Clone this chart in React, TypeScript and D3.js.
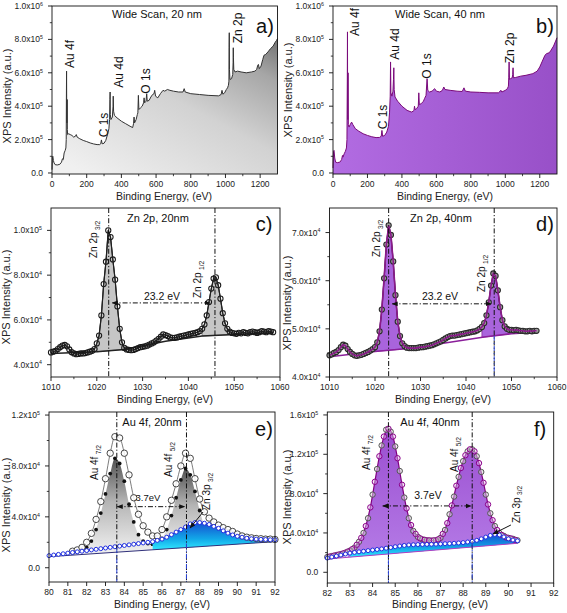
import React from "react";
import * as d3 from "d3";

const FONT = "'Liberation Sans', Arial, Helvetica, sans-serif";

// ---------------- data ----------------
// (a) wide scan 20 nm, intensity ×10^5
const wideEnergy20 = [0,2,5,8,12,18,30,45,55,60,65,70,76,80,82,83,84,85,86,87.5,88.5,90,96,105,115,125,135,140,145,160,180,200,220,240,260,275,281,285,289,300,310,320,328,332,334,335,336,340,348,352,353,355,360,375,400,425,450,465,470,473,476,485,492,495,498,501,510,520,528,531,534,542,546,549,560,570,580,588,592,597,610,625,640,650,665,680,700,730,755,762,768,800,850,900,960,975,980,985,995,1005,1012,1017,1020,1021,1022,1023,1026,1035,1042,1044,1045,1046,1048,1055,1070,1090,1120,1150,1170,1180,1186,1190,1195,1205,1215,1222,1232,1245,1260,1275,1285,1295,1300];
const wideIntensity20 = [0.2,0.95,1.0,0.75,0.6,0.5,0.48,0.52,0.65,0.85,0.8,1.2,1.35,1.5,2.0,4.5,6.1,3.2,3.0,4.4,2.6,2.3,2.35,2.3,2.25,2.15,2.2,2.3,2.15,2.05,1.95,1.88,1.8,1.74,1.7,1.7,1.75,1.98,1.75,1.78,1.95,2.3,2.65,3.2,4.4,4.85,3.5,3.2,3.35,4.0,4.6,3.7,3.45,3.3,3.1,2.95,2.8,2.72,2.95,3.35,3.0,3.2,3.5,3.6,4.65,3.8,3.9,4.0,4.2,4.5,4.2,4.3,4.75,4.3,4.35,4.55,4.7,4.75,4.95,4.6,4.5,4.75,4.95,4.9,5.0,4.95,4.9,4.85,4.85,5.05,4.85,4.75,4.7,4.65,4.62,4.7,4.95,4.72,4.8,5.0,5.1,5.25,5.5,7.5,8.4,6.2,5.6,5.65,5.9,6.6,7.5,6.9,6.2,6.05,6.1,6.05,6.0,6.05,6.1,6.2,6.45,6.5,6.25,6.4,6.8,7.05,7.1,7.25,7.45,7.6,7.8,7.95,8.05];
// (b) wide scan 40 nm, intensity ×10^5
const wideEnergy40 = [0,3,6,10,15,25,40,50,55,58,65,72,78,81,83,84,85,86,87.5,89,93,100,108,115,130,150,175,200,225,250,270,280,284,288,300,312,322,328,332,334,336,342,348,351,353,355,360,375,400,430,455,465,470,473,476,485,495,498,501,512,525,531,540,546,550,560,575,590,600,620,635,643,650,680,720,750,760,768,800,850,900,960,975,980,1000,1012,1018,1020,1022,1024,1030,1040,1043,1045,1047,1060,1090,1120,1160,1185,1200,1215,1230,1240,1255,1265,1280,1292,1300];
const wideIntensity40 = [0.3,1.3,1.35,0.9,0.65,0.62,0.65,0.8,1.05,0.95,1.15,1.3,1.5,2.0,5.5,8.45,3.5,3.2,6.0,2.9,2.75,2.9,3.05,2.9,2.65,2.5,2.35,2.25,2.17,2.12,2.13,2.2,2.55,2.2,2.25,2.45,2.8,3.6,4.6,6.65,4.8,4.6,4.9,5.6,6.3,5.0,4.55,4.3,4.0,3.75,3.65,3.7,3.75,4.0,3.8,3.85,4.0,4.8,4.1,4.15,4.3,4.45,4.65,5.65,4.95,4.85,4.9,5.05,4.9,4.85,4.95,5.15,5.0,4.95,4.9,4.88,5.1,4.9,4.85,4.83,4.8,4.8,4.95,4.85,4.95,5.05,5.2,5.7,6.65,5.6,5.65,5.7,5.9,6.3,5.7,5.72,5.8,5.85,5.95,6.1,6.35,6.7,7.05,7.15,7.2,7.35,7.6,7.9,8.1];
const widePeakNames = ["Au 4f", "C 1s", "Au 4d", "O 1s", "Zn 2p"];

// (c) Zn 2p 20 nm, ×10^4, 0.5 eV steps from 1010
const zn20Start = 1010;
const zn20Intensity = [4.55,4.58,4.62,4.7,4.78,4.85,4.88,4.82,4.68,4.56,4.5,4.47,4.48,4.5,4.5,4.52,4.55,4.58,4.62,4.7,4.95,5.3,6.2,7.6,8.6,10.0,9.7,8.7,7.8,6.6,5.6,5.0,4.75,4.68,4.66,4.65,4.66,4.7,4.74,4.78,4.8,4.82,4.85,4.9,4.95,5.0,5.08,5.15,5.25,5.35,5.32,5.28,5.22,5.2,5.2,5.22,5.25,5.28,5.3,5.32,5.35,5.38,5.4,5.42,5.45,5.5,5.6,5.8,6.2,6.8,7.4,7.85,7.9,7.55,6.95,6.3,5.85,5.6,5.48,5.42,5.4,5.38,5.42,5.4,5.45,5.42,5.4,5.45,5.48,5.45,5.42,5.45,5.5,5.48,5.45,5.5,5.48,5.45];
const zn20BgEnergy = [1010, 1020, 1026, 1035, 1043, 1050, 1058.5];
const zn20BgIntensity = [4.5, 4.58, 4.68, 5.05, 5.28, 5.35, 5.42];
const zn20PeakLines = [1022.6, 1045.8];
const zn20Split = { from: 1023.4, to: 1044.7, level: 6.76 };

// (d) Zn 2p 40 nm, ×10^4, 0.5 eV steps from 1010
const zn40Start = 1010;
const zn40Intensity = [4.45,4.47,4.5,4.52,4.56,4.62,4.67,4.65,4.58,4.52,4.48,4.45,4.44,4.45,4.46,4.48,4.5,4.52,4.55,4.58,4.62,4.72,4.95,5.4,6.05,6.75,7.15,6.95,6.4,5.7,5.15,4.85,4.7,4.64,4.61,4.6,4.6,4.6,4.6,4.61,4.62,4.62,4.63,4.64,4.65,4.66,4.68,4.7,4.72,4.74,4.77,4.8,4.83,4.85,4.86,4.86,4.87,4.88,4.89,4.9,4.91,4.92,4.93,4.94,4.95,4.97,5.0,5.04,5.12,5.28,5.55,5.9,6.15,6.1,5.8,5.45,5.18,5.05,5.0,4.98,4.98,4.97,4.98,4.97,4.96,4.96,4.95,4.95,4.96,4.95,4.96,4.96];
const zn40BgEnergy = [1010, 1020, 1026, 1035, 1044, 1050, 1055.5];
const zn40BgIntensity = [4.42, 4.53, 4.58, 4.7, 4.83, 4.9, 4.93];
const zn40PeakLines = [1023.0, 1046.2];
const zn40Split = { from: 1023.8, to: 1045.5, level: 5.52 };

// (e) Au 4f 20 nm, ×10^4
const au20MeasStart = 81.25;
const au20Measured = [1.3,1.4,1.6,2.0,2.7,3.8,5.2,7.0,9.0,10.3,10.2,9.0,7.3,5.5,4.2,3.3,2.8,2.5,2.5,3.0,4.0,5.3,6.6,8.0,9.0,8.6,7.0,5.4,4.4,3.9,3.6,3.35,3.15,3.0,2.85,2.65,2.5,2.4,2.35,2.3,2.28,2.25,2.25,2.22];
const au20ZnStart = 80;
const au20Zn3p = [0.95,1.0,1.05,1.1,1.15,1.2,1.25,1.3,1.35,1.4,1.45,1.5,1.55,1.6,1.65,1.7,1.75,1.8,1.85,1.9,1.95,2.0,2.05,2.15,2.25,2.4,2.6,2.8,3.0,3.2,3.45,3.55,3.55,3.5,3.4,3.25,3.1,2.9,2.72,2.58,2.47,2.4,2.32,2.28,2.25,2.23,2.22,2.2,2.2];
const au20Comp72Start = 81.75;
const au20Comp72 = [1.4,1.6,2.1,3.0,4.3,5.8,7.4,8.6,8.2,6.8,5.0,3.6,2.6,2.1,1.9,1.85];
const au20Comp52Start = 85.5;
const au20Comp52 = [1.85,1.95,2.3,3.0,4.1,5.5,6.9,7.8,7.3,6.0,4.5,3.3,2.6,2.25,2.1,2.05];
const au20BgEnergy = [80, 92];
const au20BgIntensity = [0.87, 2.05];
const au20PeakLines = [83.6, 87.3];
const au20Split = { from: 83.63, to: 87.2, level: 4.8 };
const au20ZnPointer = { from: [88.18, 4.38], to: [87.49, 3.12] };

// (f) Au 4f 40 nm, ×10^4, 0.2 eV steps
const au40Start = 82;
const au40Measured = [1.55,1.65,1.75,1.85,2.0,2.2,2.5,3.1,4.0,5.5,7.9,10.5,12.9,14.5,14.3,12.8,10.3,7.6,5.5,4.2,3.6,3.35,3.25,3.22,3.25,3.5,4.3,5.9,7.7,9.7,11.3,12.3,12.5,11.8,10.2,7.9,6.0,4.7,4.0,3.7,3.5,3.4,3.25];
const au40Zn3p = [1.45,1.55,1.65,1.75,1.85,1.95,2.02,2.08,2.14,2.2,2.26,2.32,2.38,2.45,2.52,2.6,2.67,2.73,2.78,2.8,2.82,2.83,2.84,2.85,2.86,2.88,2.9,2.92,2.95,2.98,3.02,3.08,3.15,3.25,3.4,3.58,3.75,3.85,3.8,3.6,3.4,3.28,3.2];
const au40FitStart = 82.1;
const au40Fit = [1.6,1.7,1.8,1.92,2.1,2.35,2.8,3.5,4.7,6.6,9.2,11.8,13.8,14.6,13.8,11.6,8.9,6.5,4.8,3.9,3.45,3.3,3.25,3.25,3.35,3.9,5.0,6.8,8.8,10.6,11.9,12.5,12.3,11.1,9.1,6.9,5.3,4.3,3.8,3.55,3.45,3.3];
const au40BgEnergy = [82, 90.4];
const au40BgIntensity = [1.35, 2.95];
const au40PeakLines = [84.7, 88.4];
const au40Split = { from: 84.45, to: 88.35, level: 6.75 };
const au40ZnPointer = { from: [90.11, 4.81], to: [89.32, 3.9] };

// ticks
const wideXTicks = [0, 200, 400, 600, 800, 1000, 1200];
const wideXMinor = [100, 300, 500, 700, 900, 1100];
const wideYTicks = [0, 2, 4, 6, 8, 10];
const wideYLabels = ["0.0", "2.0x10^5", "4.0x10^5", "6.0x10^5", "8.0x10^5", "1.0x10^6"];
const wideYMinor = [1, 3, 5, 7, 9];
const znXTicks = [1010, 1020, 1030, 1040, 1050, 1060];
const znXMinor = [1015, 1025, 1035, 1045, 1055];
const zn20YTicks = [4, 6, 8, 10];
const zn20YLabels = ["4.0x10^4", "6.0x10^4", "8.0x10^4", "1.0x10^5"];
const zn20YMinor = [5, 7, 9];
const zn40YTicks = [4, 5, 6, 7];
const zn40YLabels = ["4.0x10^4", "5.0x10^4", "6.0x10^4", "7.0x10^4"];
const zn40YMinor = [4.5, 5.5, 6.5];
const au20XTicks = [80, 81, 82, 83, 84, 85, 86, 87, 88, 89, 90, 91, 92];
const au40XTicks = [82, 83, 84, 85, 86, 87, 88, 89, 90, 91, 92];
const au20YTicks = [0, 4, 8, 12];
const au20YLabels = ["0.0", "4.0x10^4", "8.0x10^4", "1.2x10^5"];
const au20YMinor = [2, 6, 10];
const au40YTicks = [0, 4, 8, 12, 16];
const au40YLabels = ["0.0", "4.0x10^4", "8.0x10^4", "1.2x10^5", "1.6x10^5"];
const au40YMinor = [2, 6, 10, 14];

// ---------------- helpers ----------------
type P = [number, number];
const zip = (xs: number[], ys: number[]): P[] => xs.map((x, i) => [x, ys[i]] as P);
const grid = (start: number, step: number, vals: number[]): P[] =>
  vals.map((v, i) => [+(start + i * step).toFixed(3), v] as P);

const DASH = "5 2 1.2 2";

function SupText({ s, x, y, anchor, size }: any) {
  const [m, e] = s.split("^");
  return (
    <text x={x} y={y} textAnchor={anchor} fontSize={size} fill="#222">
      {m}
      {e ? <tspan dy={-3.2} fontSize={size * 0.62}>{e}</tspan> : null}
    </text>
  );
}

function Axes({ x, y, xt, xm, yt, yl, ym, xTitle, yTitle }: any) {
  const [L, R] = x.range();
  const [B, T] = y.range();
  return (
    <g>
      <rect x={L} y={T} width={R - L} height={B - T} fill="none" stroke="#111" strokeWidth={0.9} />
      {xt.map((v: number) => (
        <g key={"xt" + v}>
          <line x1={x(v)} x2={x(v)} y1={B} y2={B + 4} stroke="#111" strokeWidth={0.9} />
          <text x={x(v)} y={B + 12.5} textAnchor="middle" fontSize={8.5} fill="#222">{v}</text>
        </g>
      ))}
      {xm.map((v: number) => (
        <line key={"xm" + v} x1={x(v)} x2={x(v)} y1={B} y2={B + 2.2} stroke="#111" strokeWidth={0.8} />
      ))}
      {yt.map((v: number, i: number) => (
        <g key={"yt" + v}>
          <line x1={L - 4} x2={L} y1={y(v)} y2={y(v)} stroke="#111" strokeWidth={0.9} />
          <SupText s={yl[i]} x={L - 9} y={y(v) + 3} anchor="end" size={8.5} />
        </g>
      ))}
      {ym.map((v: number) => (
        <line key={"ym" + v} x1={L - 2.2} x2={L} y1={y(v)} y2={y(v)} stroke="#111" strokeWidth={0.8} />
      ))}
      <text x={xTitle[0]} y={xTitle[1]} textAnchor="middle" fontSize={10.5} fill="#222">Binding Energy, (eV)</text>
      <text transform={`translate(${yTitle[0]},${yTitle[1]}) rotate(-90)`} textAnchor="middle" fontSize={11} fill="#222">
        XPS Intensity (a.u.)
      </text>
    </g>
  );
}

function VLabel({ x, y, text, size = 12 }: any) {
  return (
    <text transform={`translate(${x},${y}) rotate(-90)`} textAnchor="middle" fontSize={size} fill="#111">{text}</text>
  );
}

function SubLabel({ x, y, main, sub, size = 10 }: any) {
  return (
    <text transform={`translate(${x},${y}) rotate(-90)`} fontSize={size} fill="#111">
      {main}
      <tspan dx={2.5} dy={2.5} fontSize={size * 0.66}>{sub}</tspan>
    </text>
  );
}

function Title({ x, y, text }: any) {
  return <text x={x} y={y} textAnchor="middle" fontSize={11} fill="#111">{text}</text>;
}
function Letter({ x, y, text }: any) {
  return <text x={x} y={y} textAnchor="middle" fontSize={20} fill="#111">{text}</text>;
}

function Split({ x, y, s, label, lx, ly, size = 10.5 }: any) {
  return (
    <g>
      <line x1={x(s.from)} x2={x(s.to)} y1={y(s.level)} y2={y(s.level)} stroke="#111" strokeWidth={1}
        strokeDasharray={DASH} markerStart="url(#arrowHead)" markerEnd="url(#arrowHead)" />
      <text x={lx} y={ly} textAnchor="middle" fontSize={size} fill="#111">{label}</text>
    </g>
  );
}

// ---------------- panels ----------------
function WidePanel({ E, I, left, right, fill, stroke, labelPos, title, letter, yTitle, xTitle }: any) {
  const x = d3.scaleLinear().domain([0, 1300]).range([left, right]);
  const y = d3.scaleLinear().domain([-0.06, 10]).range([174, 6]);
  const pts = zip(E, I);
  const area = d3.area<P>().x(d => x(d[0])).y0(174).y1(d => y(d[1]));
  const line = d3.line<P>().x(d => x(d[0])).y(d => y(d[1]));
  return (
    <g>
      <path d={area(pts) || ""} fill={fill} />
      <path d={line(pts) || ""} fill="none" stroke={stroke} strokeWidth={1} />
      <Axes x={x} y={y} xt={wideXTicks} xm={wideXMinor} yt={wideYTicks} yl={wideYLabels} ym={wideYMinor}
        xTitle={xTitle} yTitle={yTitle} />
      {widePeakNames.map((n, i) => (
        <VLabel key={n} x={labelPos[i][0]} y={labelPos[i][1]} text={n} size={12} />
      ))}
      <Title x={title[1]} y={17.5} text={title[0]} />
      <Letter x={letter[1]} y={33} text={letter[0]} />
    </g>
  );
}

function ZnPanel({ start, vals, bgE, bgI, lines, split, box, yDomain, yt, yl, ym, look, labels }: any) {
  const x = d3.scaleLinear().domain([1010, 1060]).range([box.left, box.right]);
  const y = d3.scaleLinear().domain(yDomain).range([box.bottom, box.top]);
  const pts = grid(start, 0.5, vals);
  const bg = d3.scaleLinear().domain(bgE).range(bgI);
  const bgPts = zip(bgE, bgI);
  const area = d3.area<P>().x(d => x(d[0])).y0(d => y(bg(d[0]))).y1(d => y(d[1]));
  const line = d3.line<P>().x(d => x(d[0])).y(d => y(d[1]));
  const p1 = pts.filter(d => d[0] >= lines[0] - 3 && d[0] <= lines[0] + 3.5);
  const p2 = pts.filter(d => d[0] >= lines[1] - 3 && d[0] <= lines[1] + 3.5);
  return (
    <g>
      <path d={area(p1) || ""} fill={look.fill} stroke={look.edge} strokeWidth={0.8} />
      <path d={area(p2) || ""} fill={look.fill} stroke={look.edge} strokeWidth={0.8} />
      <path d={line(bgPts) || ""} fill="none" stroke={look.bg} strokeWidth={1.6} />
      <path d={line(pts) || ""} fill="none" stroke={look.dot} strokeWidth={1.2} />
      {pts.map((d, i) => (
        <circle key={i} cx={x(d[0])} cy={y(d[1])} r={2.6} fill={look.dotFill} stroke={look.dot} strokeWidth={1.05} />
      ))}
      <path d={line(pts) || ""} fill="none" stroke={look.fit} strokeWidth={look.fitW} />
      {lines.map((v: number, i: number) => (
        <line key={i} x1={x(v)} x2={x(v)} y1={box.top} y2={box.bottom} stroke="#111" strokeWidth={1} strokeDasharray={DASH} />
      ))}
      {look.blueLine ? (
        <line x1={x(lines[1])} x2={x(lines[1])} y1={y(bg(lines[1]))} y2={box.bottom} stroke="#2b44d6" strokeWidth={1} strokeDasharray={DASH} />
      ) : null}
      <Split x={x} y={y} s={split} label="23.2 eV" lx={labels.split[0]} ly={labels.split[1]} />
      <Axes x={x} y={y} xt={znXTicks} xm={znXMinor} yt={yt} yl={yl} ym={ym} xTitle={labels.xTitle} yTitle={labels.yTitle} />
      <SubLabel x={labels.p1[0]} y={labels.p1[1]} main="Zn 2p" sub="3/2" />
      <SubLabel x={labels.p2[0]} y={labels.p2[1]} main="Zn 2p" sub="1/2" />
      <Title x={labels.title[1]} y={221.5} text={labels.title[0]} />
      <Letter x={labels.letter[1]} y={231} text={labels.letter[0]} />
    </g>
  );
}

function Au20Panel() {
  const box = { left: 49, right: 275, top: 412, bottom: 582 };
  const x = d3.scaleLinear().domain([80, 92]).range([box.left, box.right]);
  const y = d3.scaleLinear().domain([-1.12, 12.24]).range([box.bottom, box.top]);
  const bg = d3.scaleLinear().domain(au20BgEnergy).range(au20BgIntensity);
  const meas = grid(au20MeasStart, 0.25, au20Measured);
  const zn = grid(au20ZnStart, 0.25, au20Zn3p);
  const c72 = grid(au20Comp72Start, 0.25, au20Comp72);
  const c52 = grid(au20Comp52Start, 0.25, au20Comp52);
  const area = d3.area<P>().x(d => x(d[0])).y0(d => y(bg(d[0]))).y1(d => y(d[1])).curve(d3.curveMonotoneX);
  const line = d3.line<P>().x(d => x(d[0])).y(d => y(d[1])).curve(d3.curveMonotoneX);
  const znFill = zn.filter(d => d[0] >= 85.5 && d[0] <= 91.75);
  const bgPts = zip(au20BgEnergy, au20BgIntensity);
  return (
    <g>
      <path d={area(c72) || ""} fill="url(#grayPeak)" />
      <path d={area(c52) || ""} fill="url(#grayPeak)" />
      {c72.concat(c52).map((d, i) => (
        <circle key={"c" + i} cx={x(d[0])} cy={y(d[1])} r={1.9} fill="#111" />
      ))}
      <path d={area(znFill) || ""} fill="url(#cyanPeak)" />
      <path d={line(bgPts) || ""} stroke="#30307a" strokeWidth={1} fill="none" />
      <path d={line(meas) || ""} stroke="#444" strokeWidth={0.7} fill="none" />
      {meas.map((d, i) => (
        <circle key={"m" + i} cx={x(d[0])} cy={y(d[1])} r={3.2} fill="#fff" fillOpacity={0.85} stroke="#333" strokeWidth={0.9} />
      ))}
      <path d={line(zn) || ""} stroke="#1e2ee0" strokeWidth={1.2} fill="none" />
      {zn.map((d, i) => (
        <circle key={"z" + i} cx={x(d[0])} cy={y(d[1])} r={2} fill="#fff" stroke="#1e2ee0" strokeWidth={1} />
      ))}
      {au20PeakLines.map((v, i) => (
        <g key={i}>
          <line x1={x(v)} x2={x(v)} y1={box.top} y2={box.bottom} stroke="#111" strokeWidth={1} strokeDasharray={DASH} />
          <line x1={x(v)} x2={x(v)} y1={y(bg(v)) - 4} y2={box.bottom} stroke="#2b44d6" strokeWidth={1} strokeDasharray={DASH} />
        </g>
      ))}
      <Split x={x} y={y} s={au20Split} label="3.7eV" lx={148} ly={501} size={9.5} />
      <line x1={x(au20ZnPointer.from[0])} y1={y(au20ZnPointer.from[1])} x2={x(au20ZnPointer.to[0])} y2={y(au20ZnPointer.to[1])}
        stroke="#111" strokeWidth={1} markerEnd="url(#arrowHead)" />
      <Axes x={x} y={y} xt={au20XTicks} xm={[]} yt={au20YTicks} yl={au20YLabels} ym={au20YMinor}
        xTitle={[162, 607.5]} yTitle={[10, 505]} />
      <SubLabel x={98} y={480} main="Au 4f" sub="7/2" />
      <SubLabel x={172} y={477} main="Au 4f" sub="5/2" />
      <SubLabel x={210} y={510} main="Zn 3p" sub="3/2" />
      <Title x={152} y={426} text="Au 4f, 20nm" />
      <Letter x={264} y={436} text="e)" />
    </g>
  );
}

function Au40Panel() {
  const box = { left: 327.3, right: 553.7, top: 412, bottom: 583 };
  const x = d3.scaleLinear().domain([82, 92]).range([box.left, box.right]);
  const y = d3.scaleLinear().domain([-1.09, 16.3]).range([box.bottom, box.top]);
  const bg = d3.scaleLinear().domain(au40BgEnergy).range(au40BgIntensity);
  const meas = grid(au40Start, 0.2, au40Measured);
  const zn = grid(au40Start, 0.2, au40Zn3p);
  const fit = grid(au40FitStart, 0.2, au40Fit);
  const area = d3.area<P>().x(d => x(d[0])).y0(d => y(bg(d[0]))).y1(d => y(d[1])).curve(d3.curveMonotoneX);
  const line = d3.line<P>().x(d => x(d[0])).y(d => y(d[1])).curve(d3.curveMonotoneX);
  const bgPts = zip(au40BgEnergy, au40BgIntensity);
  return (
    <g>
      <path d={area(fit.filter(d => d[0] >= 82.8)) || ""} fill="url(#purplePeak)" />
      <path d={area(zn.filter(d => d[0] >= 83)) || ""} fill="url(#cyanPeak)" />
      <path d={line(bgPts) || ""} stroke="#b040c0" strokeWidth={1} fill="none" />
      <path d={line(fit) || ""} stroke="#800080" strokeWidth={1.2} fill="none" />
      {meas.map((d, i) => (
        <circle key={"m" + i} cx={x(d[0])} cy={y(d[1])} r={2.7} fill="#d9d9d9" fillOpacity={0.5} stroke="#555" strokeWidth={1} />
      ))}
      {fit.map((d, i) => (
        <circle key={"f" + i} cx={x(d[0])} cy={y(d[1])} r={2.7} fill="#e8c8f0" fillOpacity={0.4} stroke="#8a008a" strokeWidth={1} />
      ))}
      <path d={line(zn) || ""} stroke="#1e2ee0" strokeWidth={1.2} fill="none" />
      {zn.map((d, i) => (
        <circle key={"z" + i} cx={x(d[0])} cy={y(d[1])} r={2} fill="#fff" stroke="#1e2ee0" strokeWidth={1} />
      ))}
      {au40PeakLines.map((v, i) => (
        <g key={i}>
          <line x1={x(v)} x2={x(v)} y1={box.top} y2={box.bottom} stroke="#111" strokeWidth={1} strokeDasharray={DASH} />
          <line x1={x(v)} x2={x(v)} y1={y(bg(v)) - 4} y2={box.bottom} stroke="#2b44d6" strokeWidth={1} strokeDasharray={DASH} />
        </g>
      ))}
      <Split x={x} y={y} s={au40Split} label="3.7eV" lx={428} ly={499} />
      <line x1={x(au40ZnPointer.from[0])} y1={y(au40ZnPointer.from[1])} x2={x(au40ZnPointer.to[0])} y2={y(au40ZnPointer.to[1])}
        stroke="#111" strokeWidth={1} markerEnd="url(#arrowHead)" />
      <Axes x={x} y={y} xt={au40XTicks} xm={[]} yt={au40YTicks} yl={au40YLabels} ym={au40YMinor}
        xTitle={[440, 607.5]} yTitle={[290.5, 497]} />
      <SubLabel x={370} y={470} main="Au 4f" sub="7/2" />
      <SubLabel x={458} y={472} main="Au 4f" sub="5/2" />
      <SubLabel x={519.5} y={523} main="Zn 3p" sub="3/2" />
      <Title x={430} y={426} text="Au 4f, 40nm" />
      <Letter x={540} y={436} text="f)" />
    </g>
  );
}

export default function App() {
  return (
    <svg width={567} height={613} viewBox="0 0 567 613" fontFamily={FONT}
      style={{ position: "absolute", left: 0, top: 0, display: "block", background: "#fff" }}>
      <defs>
        <linearGradient id="grayWide" x1="0.15" y1="1" x2="1" y2="0">
          <stop offset="0" stopColor="#f0f0f0" />
          <stop offset="0.5" stopColor="#d2d2d2" />
          <stop offset="0.8" stopColor="#a6a6a6" />
          <stop offset="1" stopColor="#6a6a6a" />
        </linearGradient>
        <linearGradient id="purpleWide" x1="0" y1="0" x2="1" y2="0">
          <stop offset="0" stopColor="#b26ce2" />
          <stop offset="1" stopColor="#9850c8" />
        </linearGradient>
        <linearGradient id="grayPeak" x1="0" y1="0" x2="0" y2="1">
          <stop offset="0" stopColor="#525252" />
          <stop offset="0.45" stopColor="#b4b4b4" />
          <stop offset="1" stopColor="#f2f2f2" />
        </linearGradient>
        <linearGradient id="cyanPeak" x1="0" y1="0" x2="0" y2="1">
          <stop offset="0" stopColor="#1450d0" />
          <stop offset="0.6" stopColor="#12a8e8" />
          <stop offset="1" stopColor="#30e8ff" />
        </linearGradient>
        <linearGradient id="purplePeak" x1="0" y1="0" x2="0" y2="1">
          <stop offset="0" stopColor="#9a4ed0" />
          <stop offset="1" stopColor="#b47ae6" />
        </linearGradient>
        <marker id="arrowHead" viewBox="0 0 10 10" refX="9" refY="5" markerWidth="6" markerHeight="6"
          markerUnits="userSpaceOnUse" orient="auto-start-reverse">
          <path d="M0,1 L10,5 L0,9 z" fill="#111" />
        </marker>
      </defs>
      <rect x={0} y={0} width={567} height={613} fill="#fff" />

      <WidePanel E={wideEnergy20} I={wideIntensity20} left={52} right={277.5} fill="url(#grayWide)" stroke="#333"
        labelPos={[[74, 54], [108, 125], [123, 72], [150, 81], [242, 28]]}
        title={["Wide Scan, 20 nm", 157]} letter={["a)", 265]} yTitle={[10.5, 96]} xTitle={[164, 200]} />
      <WidePanel E={wideEnergy40} I={wideIntensity40} left={333} right={557} fill="url(#purpleWide)" stroke="#7a0a7a"
        labelPos={[[359, 22], [387, 117], [399, 44], [431, 66], [514, 48]]}
        title={["Wide Scan, 40 nm", 440]} letter={["b)", 545]} yTitle={[292, 90]} xTitle={[445, 200]} />

      <ZnPanel start={zn20Start} vals={zn20Intensity} bgE={zn20BgEnergy} bgI={zn20BgIntensity}
        lines={zn20PeakLines} split={zn20Split}
        box={{ left: 51, right: 280, top: 208, bottom: 377 }} yDomain={[3.45, 11.0]}
        yt={zn20YTicks} yl={zn20YLabels} ym={zn20YMinor}
        look={{ fill: "#c6c6c6", edge: "#777", bg: "#222", dot: "#1a1a1a", dotFill: "none", fit: "#222", fitW: 0.8, blueLine: false }}
        labels={{ split: [162, 300], xTitle: [165, 402.5], yTitle: [9.5, 297], p1: [97, 258], p2: [201, 298],
          title: ["Zn 2p, 20nm", 158], letter: ["c)", 264] }} />
      <ZnPanel start={zn40Start} vals={zn40Intensity} bgE={zn40BgEnergy} bgI={zn40BgIntensity}
        lines={zn40PeakLines} split={zn40Split}
        box={{ left: 329.5, right: 557, top: 208, bottom: 377 }} yDomain={[4.0, 7.51]}
        yt={zn40YTicks} yl={zn40YLabels} ym={zn40YMinor}
        look={{ fill: "#a964dc", edge: "#8a2a9a", bg: "#8a1f9a", dot: "#2a2a2a", dotFill: "#9a9a9a", fit: "#8b1a8b", fitW: 1.6, blueLine: true }}
        labels={{ split: [440, 300], xTitle: [443, 402.5], yTitle: [291, 303], p1: [380, 257], p2: [485, 292],
          title: ["Zn 2p, 40nm", 441], letter: ["d)", 545] }} />

      <Au20Panel />
      <Au40Panel />
    </svg>
  );
}
